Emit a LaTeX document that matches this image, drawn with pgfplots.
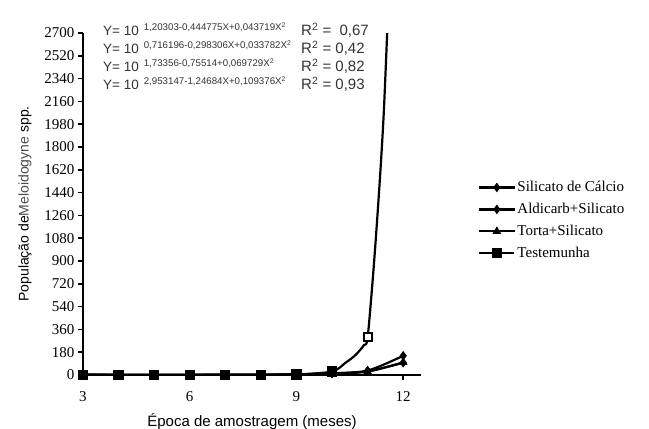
\documentclass[border=0pt]{standalone}
\usepackage{pgfplots}
\pgfplotsset{compat=1.18}
\usepackage{fontspec}
\setmainfont{Liberation Serif}
\newfontfamily\arial{Liberation Sans}
\begin{document}
\begin{tikzpicture}[x=1pt,y=1pt]
\useasboundingbox (-83,-54) rectangle (566,375);
\begin{axis}[
  at={(0,0)}, anchor=south west,
  scale only axis, width=338pt, height=342pt,
  xmin=3, xmax=12.5, ymin=0, ymax=2700,
  axis x line=bottom, axis y line=left,
  axis line style={line width=2pt, -},
  xtick={3,6,9,12}, ytick={0,180,...,2700},
  tick align=outside, major tick length=5pt,
  tick style={line width=1.5pt, black},
  /pgf/number format/assume math mode=true,
  /pgf/number format/1000 sep={},
  tick label style={font=\fontsize{15}{17}\selectfont},
  xticklabel style={yshift=-8pt},
  xlabel={\arial\fontsize{15}{17}\selectfont Época de amostragem (meses)},
  ylabel={\arial\fontsize{14}{16}\selectfont População de\textcolor{black!70}{Meloidogyne} spp.},
  xlabel style={yshift=-5pt},
  ylabel style={yshift=6pt},
  legend style={draw=none, fill=none, font=\fontsize{15}{17}\selectfont, at={(1.16,0.578)}, anchor=north west, row sep=6pt},
  legend cell align=left,
  legend image code/.code={\draw[mark repeat=2,mark phase=2] plot coordinates {(0pt,0pt) (17.5pt,0pt) (35pt,0pt)};},
  every axis plot/.append style={line width=2.2pt, black},
]
% Testemunha (drawn first)
\addplot[smooth, tension=0.5, forget plot] coordinates {
 (3,1.6) (4,0.5) (5,0.3) (6,0.3) (7,0.4) (8,1.0) (9,3.9) (10,28) (10.38,97) (10.66,158) (10.9,237) (11,297)
 (11.17,850) (11.33,1484) (11.45,2050) (11.55,2700) (11.6,3000)};
\addplot[only marks, mark=square*, mark size=4pt, forget plot] coordinates {
 (3,1.6) (4,0.5) (5,0.3) (6,0.3) (7,0.4) (8,1.0) (9,3.9) (10,28)};
\addplot[only marks, mark=square*, mark size=4pt, mark options={line width=2pt, fill=white}, forget plot] coordinates {
 (11,297)};
\addplot[smooth, tension=0.5, mark=diamond*, mark size=4pt, mark options={line width=1pt}] coordinates {
 (3,1.8) (4,1.3) (5,1.2) (6,1.3) (7,1.7) (8,2.8) (9,5.5) (10,13) (11,35) (12,152)};
\addlegendentry{Silicato de Cálcio}
\addplot[smooth, tension=0.5, mark=diamond*, mark size=4pt, mark options={line width=1pt}] coordinates {
 (3,1.5) (4,1.2) (5,1.1) (6,1.2) (7,1.5) (8,2.3) (9,4.6) (10,12) (11,30) (12,97)};
\addlegendentry{Aldicarb+Silicato}
\addplot[smooth, tension=0.5, mark=triangle*, mark size=4pt, mark options={line width=1pt}] coordinates {
 (3,1.4) (4,1.1) (5,1.0) (6,1.1) (7,1.4) (8,2.2) (9,4.2) (10,11) (11,27) (12,100)};
\addlegendentry{Torta+Silicato}
\addlegendimage{line width=2.2pt, black, mark=square*, mark size=4pt}
\addlegendentry{Testemunha}
\end{axis}
\begin{scope}[color=black!80]
\foreach \yy/\ex/\rr in {339/{1,20303-0,444775X+0,043719X\textsuperscript{2}}/{=\ \ 0,67},
                        321/{0,716196-0,298306X+0,033782X\textsuperscript{2}}/{= 0,42},
                        303/{1,73356-0,75514+0,069729X\textsuperscript{2}}/{= 0,82},
                        285/{2,953147-1,24684X+0,109376X\textsuperscript{2}}/{= 0,93}}{
  \node[anchor=base west, inner sep=0pt, font=\arial\fontsize{13.5}{15}\selectfont] at (20,\yy) {Y= 10\hspace{5pt}\raisebox{5pt}{\fontsize{9.7}{10}\selectfont \ex}};
  \node[anchor=base west, inner sep=0pt, font=\arial\fontsize{15}{16}\selectfont] at (218,\yy) {R\textsuperscript{2} \rr};
}
\end{scope}
\end{tikzpicture}
\end{document}
